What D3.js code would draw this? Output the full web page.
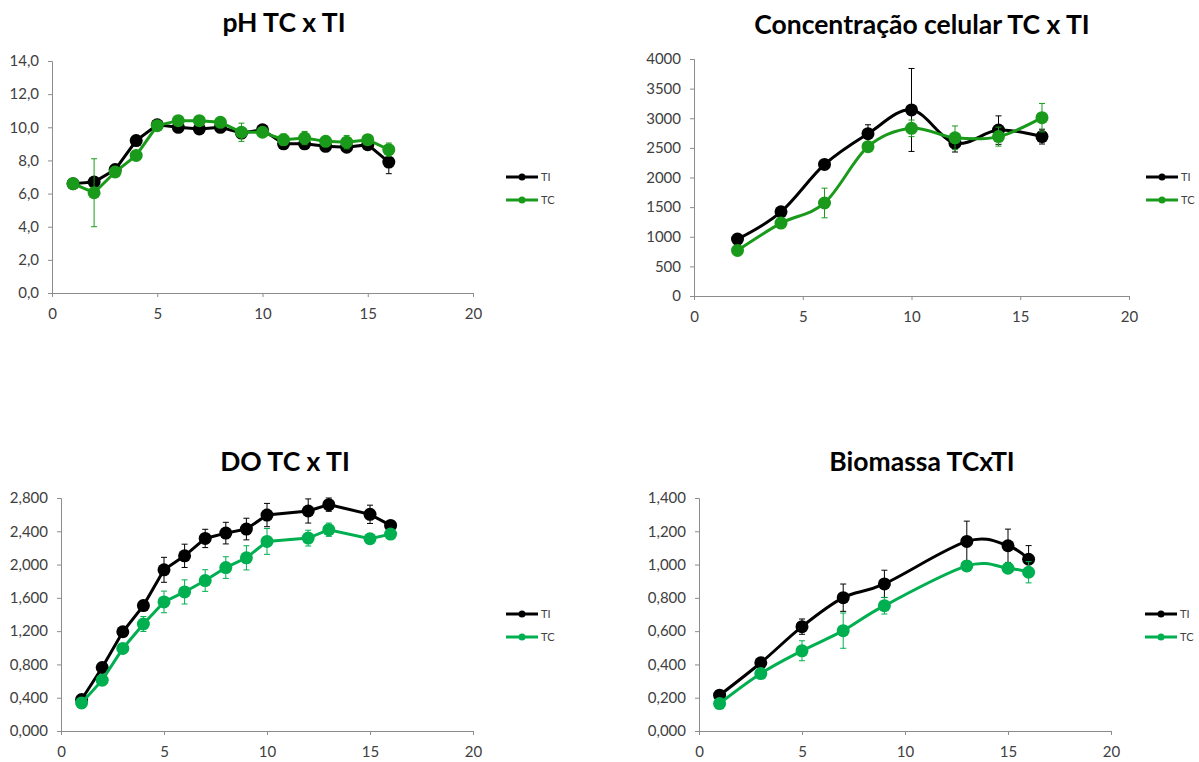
<!DOCTYPE html>
<html>
<head>
<meta charset="utf-8">
<script src="https://cdnjs.cloudflare.com/ajax/libs/d3/7.8.5/d3.min.js"></script>
<style>
  body { margin: 0; background: #fff; }
  svg text { font-family: Lato, "Open Sans", sans-serif; }
  .axis path, .axis line { stroke: #8c8c8c; }
  .axis text { fill: #404040; font-size: 15px; }
</style>
</head>
<body>
<div class="chartWrap"></div>
<script>
// pH TC x TI
const phX = [1,2,3,4,5,6,7,8,9,10,11,12,13,14,15,16];
const phTI = [6.6,6.7,7.45,9.2,10.15,10.0,9.9,10.0,9.65,9.85,9.0,9.0,8.85,8.8,8.95,7.9];
const phTIerr = [0.1,0.15,0.15,0.2,0.2,0.2,0.2,0.2,0.3,0.15,0.2,0.2,0.3,0.25,0.2,0.7];
const phTC = [6.6,6.05,7.3,8.3,10.1,10.4,10.4,10.3,9.7,9.7,9.25,9.35,9.15,9.1,9.25,8.65];
const phTCerr = [0.1,2.05,0.15,0.25,0.2,0.15,0.15,0.15,0.55,0.15,0.35,0.4,0.3,0.4,0.25,0.4];

// Concentracao celular TC x TI
const ccX = [2,4,6,8,10,12,14,16];
const ccTI = [960,1420,2220,2740,3140,2580,2800,2690];
const ccTIerr = [40,60,60,150,700,150,240,125];
const ccTC = [770,1230,1570,2520,2830,2670,2690,3010];
const ccTCerr = [40,50,250,60,140,200,160,240];

// DO TC x TI
const doX = [1,2,3,4,5,6,7,8,9,10,12,13,15,16];
const doTI = [0.378,0.763,1.193,1.507,1.937,2.105,2.314,2.378,2.427,2.595,2.644,2.72,2.604,2.471];
const doTIerr = [0.02,0.03,0.04,0.05,0.15,0.14,0.11,0.13,0.13,0.14,0.145,0.08,0.11,0.03];
const doTC = [0.337,0.611,0.992,1.286,1.551,1.671,1.808,1.964,2.081,2.278,2.318,2.419,2.31,2.366];
const doTCerr = [0.02,0.03,0.04,0.09,0.13,0.145,0.13,0.13,0.145,0.155,0.095,0.08,0.03,0.03];

// Biomassa TCxTI
const bmX = [1,3,5,7,9,13,15,16];
const bmTI = [0.215,0.41,0.627,0.801,0.884,1.139,1.113,1.032];
const bmTIerr = [0.01,0.02,0.046,0.082,0.082,0.122,0.1,0.082];
const bmTC = [0.165,0.345,0.482,0.603,0.753,0.992,0.978,0.954];
const bmTCerr = [0.01,0.02,0.06,0.106,0.05,0.03,0.03,0.064];

const svg = d3.select(".chartWrap").append("svg").attr("width", 1199).attr("height", 762);

function fmtComma(dec) {
  return d => d3.format("." + dec + "f")(d).replace(".", ",");
}

function makeChart(cfg) {
  const x = d3.scaleLinear().domain([0, 20]).range([cfg.x0, cfg.x1]);
  const y = d3.scaleLinear().domain([0, cfg.ymax]).range([cfg.y0, cfg.y1]);

  svg.append("text").text(cfg.title)
    .attr("x", cfg.tx).attr("y", cfg.ty)
    .attr("text-anchor", "middle")
    .attr("font-size", 26.5).attr("font-weight", "bold").attr("fill", "#000");

  svg.append("g").attr("class", "axis")
    .attr("transform", "translate(" + cfg.x0 + ",0)")
    .call(d3.axisLeft(y).tickValues(d3.range(0, cfg.ymax + cfg.ystep / 2, cfg.ystep))
      .tickSizeOuter(0).tickSize(4).tickPadding(9).tickFormat(cfg.fmt));
  svg.append("g").attr("class", "axis")
    .attr("transform", "translate(0," + cfg.y0 + ")")
    .call(d3.axisBottom(x).tickValues([0,5,10,15,20]).tickSizeOuter(0).tickSize(4).tickPadding(11));

  const series = [
    {v: cfg.ti, e: cfg.tie, c: "#000000", name: "TI"},
    {v: cfg.tc, e: cfg.tce, c: cfg.green, name: "TC"}
  ];
  const line = d3.line().x(d => x(d[0])).y(d => y(d[1]))
    .curve(cfg.smooth ? d3.curveCatmullRom.alpha(0) : d3.curveLinear);

  series.forEach(s => {
    const pts = cfg.xs.map((xv, i) => [xv, s.v[i], s.e[i]]);
    const g = svg.append("g");
    g.append("path").datum(pts).attr("d", line)
      .attr("fill", "none").attr("stroke", s.c).attr("stroke-width", 3);
    g.selectAll(".eb").data(pts).enter().append("path")
      .attr("d", d => {
        const cx = x(d[0]), t = y(d[1] + d[2]), b = y(d[1] - d[2]);
        return "M" + (cx - 3) + "," + t + "H" + (cx + 3) + "M" + cx + "," + t + "V" + b +
               "M" + (cx - 3) + "," + b + "H" + (cx + 3);
      })
      .attr("stroke", s.c).attr("stroke-width", 1).attr("fill", "none");
    g.selectAll("circle").data(pts).enter().append("circle")
      .attr("cx", d => x(d[0])).attr("cy", d => y(d[1])).attr("r", 6.5)
      .attr("fill", s.c);
  });

  // Legend
  series.forEach((s, i) => {
    const ly = cfg.ly + i * 23;
    svg.append("line").attr("x1", cfg.lx).attr("x2", cfg.lx + 32)
      .attr("y1", ly).attr("y2", ly).attr("stroke", s.c).attr("stroke-width", 3);
    svg.append("circle").attr("cx", cfg.lx + 16).attr("cy", ly).attr("r", 3.5).attr("fill", s.c);
    svg.append("text").text(s.name).attr("x", cfg.lx + 35).attr("y", ly + 4)
      .attr("font-size", 11).attr("fill", "#404040");
  });
}

makeChart({title: "pH TC x TI", tx: 284, ty: 32, x0: 52, x1: 473, y0: 293, y1: 61,
  ymax: 14, ystep: 2, fmt: fmtComma(1), xs: phX, ti: phTI, tie: phTIerr, tc: phTC, tce: phTCerr,
  green: "#1a9a1a", smooth: false, lx: 506, ly: 177});
makeChart({title: "Concentração celular TC x TI", tx: 922, ty: 34, x0: 694, x1: 1129, y0: 296, y1: 59,
  ymax: 4000, ystep: 500, fmt: d3.format("d"), xs: ccX, ti: ccTI, tie: ccTIerr, tc: ccTC, tce: ccTCerr,
  green: "#1a9a1a", smooth: true, lx: 1146, ly: 177});
makeChart({title: "DO TC x TI", tx: 285, ty: 471, x0: 61, x1: 473, y0: 731, y1: 498,
  ymax: 2.8, ystep: 0.4, fmt: fmtComma(3), xs: doX, ti: doTI, tie: doTIerr, tc: doTC, tce: doTCerr,
  green: "#00b050", smooth: false, lx: 506, ly: 614});
makeChart({title: "Biomassa TCxTI", tx: 922, ty: 471, x0: 699, x1: 1111, y0: 731, y1: 498,
  ymax: 1.4, ystep: 0.2, fmt: fmtComma(3), xs: bmX, ti: bmTI, tie: bmTIerr, tc: bmTC, tce: bmTCerr,
  green: "#00b050", smooth: true, lx: 1145, ly: 614});
</script>
</body>
</html>
